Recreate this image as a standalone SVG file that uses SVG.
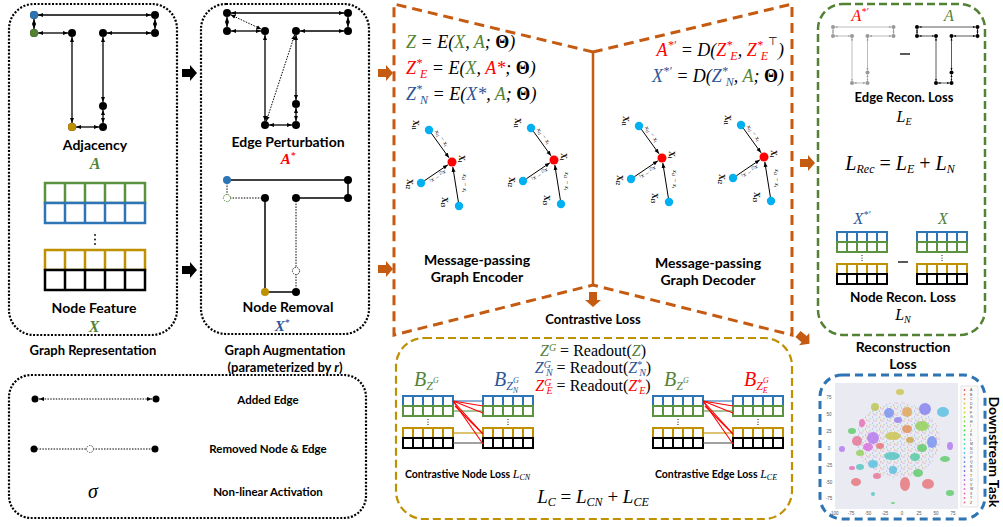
<svg xmlns="http://www.w3.org/2000/svg" xmlns:xlink="http://www.w3.org/1999/xlink" width="1003" height="527" viewBox="0 0 1003 527">
<style>
.lbl{font-family:Lato,"Liberation Sans",sans-serif;font-weight:700}
.mi{font-family:"Liberation Serif",serif;font-style:italic}
.mb{font-family:"Liberation Serif",serif;font-style:italic;font-weight:700}
.up{font-style:normal}
.edge{stroke:#000;stroke-width:1.3;marker-start:url(#ah);marker-end:url(#ah)}
.dotl{stroke:#000;stroke-width:1;stroke-dasharray:1.5 1.3}
.sol{stroke:#000;stroke-width:1.5}
.frame{fill:none;stroke:#000;stroke-width:2.2;stroke-dasharray:2 1.6}
.mpa{stroke:#000;stroke-width:1;marker-end:url(#ah)}
.mpl{font-family:"Liberation Serif",serif;font-weight:700}
.mpe{font-family:"Liberation Serif",serif;font-style:italic}
.tick{font-family:"Liberation Sans",sans-serif}
.leg{font-family:"Liberation Sans",sans-serif}
</style>
<defs>
<marker id="ah" viewBox="0 0 10 10" refX="10" refY="5" markerWidth="5" markerHeight="5" markerUnits="userSpaceOnUse" orient="auto-start-reverse"><path d="M0,1 L10,5 L0,9 z" fill="#000"/></marker>
<path id="barrow" d="M0,-4 H8 V-8 L15,0 L8,8 V4 H0 Z"/>
<g id="tedges">
<line class="edge" x1="38" y1="15" x2="151" y2="15"/>
<line class="edge" x1="34" y1="19" x2="34" y2="29"/>
<line class="edge" x1="38" y1="33" x2="68" y2="33"/>
<line class="edge" x1="155" y1="19" x2="155" y2="29"/>
<line class="edge" x1="107" y1="33" x2="151" y2="33"/>
<line class="edge" x1="72" y1="37" x2="72" y2="123"/>
<line class="edge" x1="103" y1="37" x2="103" y2="102"/>
<line class="edge" x1="103" y1="110" x2="103" y2="123"/>
<line class="edge" x1="76" y1="127" x2="99" y2="127"/>
</g>
<g id="tnodes" fill="#000">
<circle cx="34" cy="15" r="4"/><circle cx="155" cy="15" r="4"/><circle cx="34" cy="33" r="4"/><circle cx="72" cy="33" r="4"/><circle cx="103" cy="33" r="4"/><circle cx="155" cy="33" r="4"/><circle cx="103" cy="106" r="4"/><circle cx="103" cy="127" r="4"/><circle cx="72" cy="127" r="4"/>
</g>
<g id="smat" fill="#fff" stroke-width="2">
<rect x="0" y="0" width="50" height="10" stroke="#2e75b6"/><path d="M10,0v10M20,0v10M30,0v10M40,0v10" stroke="#2e75b6"/>
<rect x="0" y="10" width="50" height="10" stroke="#5b9240"/><path d="M10,10v10M20,10v10M30,10v10M40,10v10" stroke="#5b9240"/>
<g fill="#000" stroke="none"><circle cx="25" cy="23.5" r="0.6"/><circle cx="25" cy="26" r="0.6"/><circle cx="25" cy="28.5" r="0.6"/></g>
<rect x="0" y="32" width="50" height="10" stroke="#bf9000"/><path d="M10,32v10M20,32v10M30,32v10M40,32v10" stroke="#bf9000"/>
<rect x="0" y="42" width="50" height="10" stroke="#000"/><path d="M10,42v10M20,42v10M30,42v10M40,42v10" stroke="#000"/>
</g>
<g id="mp">
<line class="mpa" x1="-20.7" y1="-28.8" x2="-3" y2="-4.2"/>
<line class="mpa" x1="-27.7" y1="18.8" x2="-4.1" y2="2.8"/>
<line class="mpa" x1="6.4" y1="40" x2="0.8" y2="5"/>
<circle cx="-23" cy="-32" r="4.2" fill="#00b0f0"/>
<circle cx="-31" cy="21" r="4.2" fill="#00b0f0"/>
<circle cx="7" cy="44" r="4.2" fill="#00b0f0"/>
<circle cx="0" cy="0" r="4.5" fill="#ff0000"/>
<text class="mpl" font-size="8" transform="translate(-39,-42) rotate(90)">X<tspan font-size="5.5" dy="1.5">i1</tspan></text>
<text class="mpe" font-size="6.5" text-anchor="middle" transform="translate(-12,-23) rotate(54)">x<tspan font-size="4.5" dy="1.2">i1</tspan><tspan dy="-1.2"> − x</tspan><tspan font-size="4.5" dy="1.2">i</tspan></text>
<text class="mpl" font-size="8" transform="translate(7,-7) rotate(90)">X<tspan font-size="5.5" dy="1.5">i</tspan></text>
<text class="mpe" font-size="6.5" text-anchor="middle" transform="translate(-15,13) rotate(146)">x<tspan font-size="4.5" dy="1.2">i2</tspan><tspan dy="-1.2"> − x</tspan><tspan font-size="4.5" dy="1.2">i</tspan></text>
<text class="mpl" font-size="8" transform="translate(-45,17) rotate(90)">X<tspan font-size="5.5" dy="1.5">i2</tspan></text>
<text class="mpe" font-size="6.5" text-anchor="middle" transform="translate(11,21) rotate(90)">x<tspan font-size="4.5" dy="1.2">i3</tspan><tspan dy="-1.2"> − x</tspan><tspan font-size="4.5" dy="1.2">i</tspan></text>
<text class="mpl" font-size="8" transform="translate(-10,35) rotate(90)">X<tspan font-size="5.5" dy="1.5">i3</tspan></text>
</g>
<g id="cpair">
<use href="#smat" x="403" y="396"/>
<use href="#smat" x="483" y="396"/>
<g stroke-width="1.1">
<line x1="453" y1="401" x2="483" y2="401" stroke="#2e75b6"/>
<line x1="453" y1="411" x2="483" y2="411" stroke="#5b9240"/>
<line x1="453" y1="433" x2="483" y2="433" stroke="#bf9000"/>
<line x1="453" y1="443" x2="483" y2="443" stroke="#555"/>
<g stroke="#ff0000">
<line x1="453" y1="401" x2="483" y2="406"/>
<line x1="453" y1="401" x2="483" y2="413"/>
<line x1="453" y1="401" x2="483" y2="434"/>
<line x1="453" y1="401" x2="483" y2="444"/>
<line x1="455" y1="406" x2="483" y2="434"/>
</g>
</g>
</g>
<pattern id="noise" width="7" height="6" patternUnits="userSpaceOnUse"><circle cx="1" cy="1" r="0.6" fill="#e8686f"/><circle cx="4.5" cy="3" r="0.6" fill="#6f8af0"/><circle cx="2" cy="4.8" r="0.6" fill="#52c95e"/><circle cx="6" cy="0.7" r="0.5" fill="#b06ef0"/><circle cx="5.5" cy="5.3" r="0.5" fill="#e0a04a"/></pattern>
</defs>
<rect width="1003" height="527" fill="#fff"/>

<!-- Graph Representation panel -->
<g id="graph-representation">
<rect class="frame" x="9" y="4" width="168" height="331" rx="25"/>
<use href="#tedges"/>
<use href="#tnodes"/>
<circle cx="34" cy="15" r="4" fill="#2e75b6"/>
<circle cx="34" cy="33" r="4" fill="#548235"/>
<circle cx="72" cy="127" r="4" fill="#bf9000"/>
<text class="lbl" x="95" y="150" font-size="14" text-anchor="middle">Adjacency</text>
<text class="mb" x="95" y="169" font-size="16" fill="#548235" text-anchor="middle">A</text>
<g fill="#fff" stroke-width="2.5">
<rect x="45" y="183" width="100" height="20" stroke="#5b9240"/><path d="M65,183v20M85,183v20M105,183v20M125,183v20" stroke="#5b9240"/>
<rect x="45" y="203" width="100" height="20" stroke="#2e75b6"/><path d="M65,203v20M85,203v20M105,203v20M125,203v20" stroke="#2e75b6"/>
<rect x="45" y="250" width="100" height="20" stroke="#bf9000"/><path d="M65,250v20M85,250v20M105,250v20M125,250v20" stroke="#bf9000"/>
<rect x="45" y="270" width="100" height="20" stroke="#000"/><path d="M65,270v20M85,270v20M105,270v20M125,270v20" stroke="#000"/>
</g>
<g fill="#000"><circle cx="95" cy="235" r="0.9"/><circle cx="95" cy="239.5" r="0.9"/><circle cx="95" cy="244" r="0.9"/></g>
<text class="lbl" x="94" y="313" font-size="14" text-anchor="middle">Node Feature</text>
<text class="mb" x="94" y="332" font-size="16" fill="#548235" text-anchor="middle">X</text>
<text class="lbl" x="93" y="355" font-size="13" text-anchor="middle">Graph Representation</text>
</g>

<!-- Graph Augmentation panel -->
<g id="graph-augmentation">
<rect class="frame" x="201" y="4" width="168" height="330" rx="25"/>
<g transform="translate(193,-2)">
<use href="#tedges"/>
<line class="dotl" x1="37.6" y1="16.7" x2="68.4" y2="31.3" marker-start="url(#ah)" marker-end="url(#ah)"/>
<line class="dotl" x1="73.3" y1="123.2" x2="101.7" y2="36.8" marker-start="url(#ah)" marker-end="url(#ah)"/>
<use href="#tnodes"/>
</g>
<text class="lbl" x="288" y="147" font-size="14" text-anchor="middle">Edge Perturbation</text>
<text class="mb" x="288" y="164" font-size="15" fill="#ff0000" text-anchor="middle">A<tspan font-size="9" dy="-6">*</tspan></text>
<g transform="translate(193,165)">
<line class="sol" x1="34" y1="15" x2="155" y2="15"/>
<line class="sol" x1="155" y1="15" x2="155" y2="33"/>
<line class="sol" x1="103" y1="33" x2="155" y2="33"/>
<line class="sol" x1="72" y1="33" x2="72" y2="127"/>
<line class="sol" x1="72" y1="127" x2="103" y2="127"/>
<line class="dotl" x1="34" y1="15" x2="34" y2="33"/>
<line class="dotl" x1="34" y1="33" x2="72" y2="33"/>
<line class="dotl" x1="103" y1="33" x2="103" y2="106"/>
<line class="dotl" x1="103" y1="106" x2="103" y2="127"/>
<circle cx="34" cy="15" r="4" fill="#2e75b6"/>
<circle cx="155" cy="15" r="4"/><circle cx="72" cy="33" r="4"/><circle cx="103" cy="33" r="4"/><circle cx="155" cy="33" r="4"/><circle cx="103" cy="127" r="4"/>
<circle cx="72" cy="127" r="4" fill="#bf9000"/>
<circle cx="34" cy="33" r="3.6" fill="#fff" stroke="#548235" stroke-width="1" stroke-dasharray="1.5 1"/>
<circle cx="103" cy="106" r="3.6" fill="#fff" stroke="#333" stroke-width="1" stroke-dasharray="1.5 1"/>
</g>
<text class="lbl" x="288" y="312" font-size="14" text-anchor="middle">Node Removal</text>
<text class="mb" x="282" y="331" font-size="15" fill="#2f5597" text-anchor="middle">X<tspan font-size="9" dy="-6">*</tspan></text>
<text class="lbl" x="285" y="355" font-size="13" text-anchor="middle">Graph Augmentation</text>
<text class="lbl" x="285" y="372" font-size="13" text-anchor="middle">(parameterized by <tspan font-style="italic">r</tspan>)</text>
</g>

<!-- Legend -->
<g id="legend">
<rect class="frame" x="9" y="375" width="357" height="143" rx="22"/>
<line class="dotl" x1="39" y1="399" x2="152" y2="399" marker-start="url(#ah)" marker-end="url(#ah)"/>
<circle cx="35" cy="399" r="3.5"/><circle cx="156" cy="399" r="3.5"/>
<line class="dotl" x1="34" y1="449" x2="155" y2="449"/>
<circle cx="34" cy="449" r="3.5"/><circle cx="155" cy="449" r="3.5"/>
<circle cx="90" cy="449" r="3.5" fill="#fff" stroke="#555" stroke-width="1" stroke-dasharray="1.5 1"/>
<text class="mi" x="93" y="498" font-size="20" text-anchor="middle">σ</text>
<text class="lbl" x="268" y="404" font-size="11.5" text-anchor="middle">Added Edge</text>
<text class="lbl" x="268" y="453" font-size="11.5" text-anchor="middle">Removed Node &amp; Edge</text>
<text class="lbl" x="268" y="496" font-size="11.5" text-anchor="middle">Non-linear Activation</text>
</g>

<!-- Connectors -->
<g id="connectors">
<use href="#barrow" transform="translate(182,73)" fill="#000"/>
<use href="#barrow" transform="translate(182,270)" fill="#000"/>
<use href="#barrow" transform="translate(378,73)" fill="#c55a11"/>
<use href="#barrow" transform="translate(378,269)" fill="#c55a11"/>
<use href="#barrow" transform="translate(800,163)" fill="#c55a11"/>
<use href="#barrow" transform="translate(593,292) rotate(90)" fill="#c55a11"/>
<use href="#barrow" transform="translate(798,334) rotate(40)" fill="#c55a11"/>
</g>

<!-- Encoder / Decoder -->
<g id="encoder-decoder">
<path d="M593,52 L394,4 L394,335 L593,285 L792,335 L792,4 Z" fill="none" stroke="#c55a11" stroke-width="3" stroke-dasharray="10 6"/>
<line x1="593" y1="52" x2="593" y2="285" stroke="#c55a11" stroke-width="2.5"/>
</g>
<g id="encoder">
<text class="mi" x="406" y="48" font-size="18"><tspan fill="#548235">Z</tspan> = E(<tspan fill="#548235">X</tspan>, <tspan fill="#548235">A</tspan>; <tspan class="up" font-weight="700">Θ</tspan>)</text>
<text class="mi" x="406" y="74" font-size="18"><tspan fill="#ff0000">Z</tspan><tspan fill="#ff0000" font-size="12" dy="-7">*</tspan><tspan fill="#ff0000" font-size="12" dx="-2" dy="11">E</tspan><tspan dy="-4"> = E(</tspan><tspan fill="#548235">X</tspan>, <tspan fill="#ff0000">A*</tspan>; <tspan class="up" font-weight="700">Θ</tspan>)</text>
<text class="mi" x="406" y="100" font-size="18"><tspan fill="#2f5597">Z</tspan><tspan fill="#2f5597" font-size="12" dy="-7">*</tspan><tspan fill="#2f5597" font-size="12" dx="-2" dy="11">N</tspan><tspan dy="-4"> = E(</tspan><tspan fill="#2f5597">X*</tspan>, <tspan fill="#548235">A</tspan>; <tspan class="up" font-weight="700">Θ</tspan>)</text>
<use href="#mp" transform="translate(452,162)"/>
<use href="#mp" transform="translate(554,160)"/>
<text class="lbl" x="477" y="265" font-size="14" text-anchor="middle">Message-passing</text>
<text class="lbl" x="477" y="282" font-size="14" text-anchor="middle">Graph Encoder</text>
</g>
<g id="decoder">
<text class="mi" x="784" y="56" font-size="18" text-anchor="end"><tspan fill="#ff0000">A</tspan><tspan fill="#ff0000" font-size="12" dy="-7">*′</tspan><tspan dy="7"> = D(</tspan><tspan fill="#ff0000">Z</tspan><tspan fill="#ff0000" font-size="12" dy="-7">*</tspan><tspan fill="#ff0000" font-size="12" dx="-2" dy="11">E</tspan><tspan dy="-4">, </tspan><tspan fill="#ff0000">Z</tspan><tspan fill="#ff0000" font-size="12" dy="-7">*</tspan><tspan fill="#ff0000" font-size="12" dx="-2" dy="11">E</tspan><tspan font-size="11" class="up" dy="-15">⊤</tspan><tspan dy="11">)</tspan></text>
<text class="mi" x="784" y="82" font-size="18" text-anchor="end"><tspan fill="#2f5597">X</tspan><tspan fill="#2f5597" font-size="12" dy="-7">*′</tspan><tspan dy="7"> = D(</tspan><tspan fill="#2f5597">Z</tspan><tspan fill="#2f5597" font-size="12" dy="-7">*</tspan><tspan fill="#2f5597" font-size="12" dx="-2" dy="11">N</tspan><tspan dy="-4">, </tspan><tspan fill="#548235">A</tspan>; <tspan class="up" font-weight="700">Θ</tspan>)</text>
<use href="#mp" transform="translate(662,158)"/>
<use href="#mp" transform="translate(764,157)"/>
<text class="lbl" x="708" y="268" font-size="14" text-anchor="middle">Message-passing</text>
<text class="lbl" x="708" y="285" font-size="14" text-anchor="middle">Graph Decoder</text>
</g>

<!-- Contrastive loss -->
<g id="contrastive-loss">
<text class="lbl" x="593" y="324" font-size="13" text-anchor="middle">Contrastive Loss</text>
<rect x="396" y="338" width="396" height="181" rx="28" fill="none" stroke="#bf9000" stroke-width="2.2" stroke-dasharray="8 4"/>
<text class="mi up" x="593" y="356" font-size="16" text-anchor="middle"><tspan fill="#548235" font-style="italic">Z</tspan><tspan fill="#548235" font-style="italic" font-size="10" dy="-5">G</tspan><tspan dy="5"> = Readout(</tspan><tspan fill="#548235" font-style="italic">Z</tspan>)</text>
<text class="mi up" x="593" y="373" font-size="16" text-anchor="middle"><tspan fill="#2f5597" font-style="italic">Z</tspan><tspan fill="#2f5597" font-style="italic" font-size="10" dy="-5">G</tspan><tspan fill="#2f5597" font-style="italic" font-size="10" dx="-5" dy="8">N</tspan><tspan dy="-3"> = Readout(</tspan><tspan fill="#2f5597" font-style="italic">Z</tspan><tspan fill="#2f5597" font-size="10" dy="-5">*</tspan><tspan fill="#2f5597" font-style="italic" font-size="10" dx="-3" dy="8">N</tspan><tspan dy="-3">)</tspan></text>
<text class="mi up" x="593" y="391" font-size="16" text-anchor="middle"><tspan fill="#ff0000" font-style="italic">Z</tspan><tspan fill="#ff0000" font-style="italic" font-size="10" dy="-5">G</tspan><tspan fill="#ff0000" font-style="italic" font-size="10" dx="-5" dy="8">E</tspan><tspan dy="-3"> = Readout(</tspan><tspan fill="#ff0000" font-style="italic">Z</tspan><tspan fill="#ff0000" font-size="10" dy="-5">*</tspan><tspan fill="#ff0000" font-style="italic" font-size="10" dx="-3" dy="8">E</tspan><tspan dy="-3">)</tspan></text>
<text class="mi" x="414" y="386" font-size="20" fill="#548235">B<tspan font-size="12" dy="4">Z</tspan><tspan font-size="8" dy="-7">G</tspan></text>
<text class="mi" x="494" y="386" font-size="20" fill="#2f5597">B<tspan font-size="12" dy="4">Z</tspan><tspan font-size="8" dy="-7">G</tspan><tspan font-size="8" dx="-6" dy="10">N</tspan></text>
<text class="mi" x="664" y="386" font-size="20" fill="#548235">B<tspan font-size="12" dy="4">Z</tspan><tspan font-size="8" dy="-7">G</tspan></text>
<text class="mi" x="744" y="386" font-size="20" fill="#ff0000">B<tspan font-size="12" dy="4">Z</tspan><tspan font-size="8" dy="-7">G</tspan><tspan font-size="8" dx="-6" dy="10">E</tspan></text>
<use href="#cpair"/>
<use href="#cpair" transform="translate(250,0)"/>
<text class="lbl" x="405" y="478" font-size="10.5">Contrastive Node Loss <tspan class="mi" font-weight="400" font-size="12">L</tspan><tspan class="mi" font-weight="400" font-size="8" dy="2">CN</tspan></text>
<text class="lbl" x="655" y="478" font-size="10.5">Contrastive Edge Loss <tspan class="mi" font-weight="400" font-size="12">L</tspan><tspan class="mi" font-weight="400" font-size="8" dy="2">CE</tspan></text>
<text class="mi" x="593" y="503" font-size="19" text-anchor="middle">L<tspan font-size="12" dy="3">C</tspan><tspan class="up" dy="-3"> = </tspan>L<tspan font-size="12" dy="3">CN</tspan><tspan class="up" dy="-3"> + </tspan>L<tspan font-size="12" dy="3">CE</tspan></text>
</g>

<!-- Reconstruction loss -->
<g id="reconstruction-loss">
<rect x="818" y="4" width="167" height="331" rx="25" fill="none" stroke="#548235" stroke-width="2.5" stroke-dasharray="8 4"/>
<text class="mi" x="860" y="21" font-size="16" fill="#ff0000" text-anchor="middle">A<tspan font-size="10" dy="-6">*′</tspan></text>
<text class="mi" x="949" y="21" font-size="16" fill="#548235" text-anchor="middle">A</text>
<g transform="translate(833,27) scale(0.5) translate(-34,-15)" opacity="0.4"><use href="#tedges"/><use href="#tnodes"/></g>
<g transform="translate(917,27) scale(0.5) translate(-34,-15)"><use href="#tedges"/><use href="#tnodes"/></g>
<line x1="900" y1="54" x2="910" y2="54" stroke="#000" stroke-width="1.3"/>
<text class="lbl" x="904" y="102" font-size="13" text-anchor="middle">Edge Recon. Loss</text>
<text class="mi" x="904" y="122" font-size="16" text-anchor="middle">L<tspan font-size="10" dy="3">E</tspan></text>
<text class="mi" x="900" y="170" font-size="20" text-anchor="middle">L<tspan font-size="12" dy="3">Rec</tspan><tspan class="up" dy="-3"> = </tspan>L<tspan font-size="12" dy="3">E</tspan><tspan class="up" dy="-3"> + </tspan>L<tspan font-size="12" dy="3">N</tspan></text>
<text class="mi" x="862" y="224" font-size="16" fill="#2f5597" text-anchor="middle">X<tspan font-size="10" dy="-6">*′</tspan></text>
<text class="mi" x="943" y="224" font-size="16" fill="#548235" text-anchor="middle">X</text>
<use href="#smat" x="837" y="232"/>
<use href="#smat" x="917" y="232"/>
<line x1="898" y1="262" x2="908" y2="262" stroke="#000" stroke-width="1.3"/>
<text class="lbl" x="903" y="302" font-size="13.5" text-anchor="middle">Node Recon. Loss</text>
<text class="mi" x="903" y="320" font-size="16" text-anchor="middle">L<tspan font-size="10" dy="3">N</tspan></text>
<text class="lbl" x="903" y="352" font-size="14" text-anchor="middle">Reconstruction</text>
<text class="lbl" x="903" y="369" font-size="14" text-anchor="middle">Loss</text>
</g>

<!-- Downstream task -->
<g id="downstream-task">
<rect x="820" y="375" width="165" height="144" rx="22" fill="none" stroke="#2e75b6" stroke-width="3" stroke-dasharray="8 5"/>
<rect x="835" y="383" width="123" height="126" fill="#eaeaf2"/>
<ellipse cx="898" cy="440" rx="42" ry="38" fill="url(#noise)" opacity="0.8"/>
<g opacity="0.75">
<ellipse cx="900" cy="392" rx="4" ry="3" fill="#c9c23f"/>
<ellipse cx="875" cy="407" rx="4" ry="4" fill="#b8c23f"/>
<ellipse cx="889" cy="413" rx="5" ry="5" fill="#6f8af0"/>
<ellipse cx="907" cy="412" rx="5" ry="5" fill="#e0a04a"/>
<ellipse cx="898" cy="420" rx="4" ry="3" fill="#8f78f0"/>
<ellipse cx="925" cy="409" rx="6" ry="6" fill="#7a78f0"/>
<ellipse cx="943" cy="412" rx="6" ry="5" fill="#4bbde0"/>
<ellipse cx="862" cy="423" rx="3" ry="4" fill="#e862b4"/>
<ellipse cx="852" cy="431" rx="4" ry="3" fill="#52c95e"/>
<ellipse cx="922" cy="426" rx="7" ry="5" fill="#8ccf4a"/>
<ellipse cx="907" cy="429" rx="5" ry="4" fill="#e0894a"/>
<ellipse cx="893" cy="436" rx="8" ry="4" fill="#c9c23f"/>
<ellipse cx="873" cy="438" rx="6" ry="6" fill="#b06ef0"/>
<ellipse cx="857" cy="441" rx="5" ry="5" fill="#e86a8e"/>
<ellipse cx="842" cy="449" rx="3" ry="3" fill="#b06ef0"/>
<ellipse cx="868" cy="447" rx="5" ry="4" fill="#d865e0"/>
<ellipse cx="932" cy="442" rx="5" ry="6" fill="#6f8af0"/>
<ellipse cx="950" cy="446" rx="3" ry="4" fill="#b06ef0"/>
<ellipse cx="922" cy="448" rx="5" ry="4" fill="#52c95e"/>
<ellipse cx="892" cy="456" rx="8" ry="4" fill="#45c4bf"/>
<ellipse cx="860" cy="453" rx="4" ry="3" fill="#8ccf4a"/>
<ellipse cx="873" cy="464" rx="5" ry="4" fill="#4bbde0"/>
<ellipse cx="945" cy="459" rx="5" ry="3" fill="#52c95e"/>
<ellipse cx="915" cy="457" rx="5" ry="4" fill="#47c99a"/>
<ellipse cx="860" cy="467" rx="4" ry="3" fill="#45c4bf"/>
<ellipse cx="918" cy="473" rx="5" ry="4" fill="#52c95e"/>
<ellipse cx="856" cy="482" rx="5" ry="4" fill="#e8686f"/>
<ellipse cx="877" cy="476" rx="4" ry="3" fill="#e86a8e"/>
<ellipse cx="893" cy="470" rx="4" ry="4" fill="#4bbde0"/>
<ellipse cx="905" cy="484" rx="5" ry="7" fill="#e8686f"/>
<ellipse cx="928" cy="484" rx="6" ry="5" fill="#e8686f"/>
<ellipse cx="950" cy="493" rx="4" ry="3" fill="#52c95e"/>
<ellipse cx="893" cy="503" rx="2" ry="1" fill="#52c95e"/>
<ellipse cx="873" cy="494" rx="2" ry="2" fill="#45c4bf"/>
<ellipse cx="852" cy="468" rx="3" ry="2" fill="#e862b4"/>
<ellipse cx="880" cy="446" rx="4" ry="3" fill="#e8686f"/>
<ellipse cx="910" cy="440" rx="4" ry="3" fill="#c9a13a"/>
</g>
<g class="tick" font-size="4.5" fill="#555" text-anchor="middle">
<text x="829" y="399">75</text><text x="829" y="416">50</text><text x="829" y="433">25</text><text x="829" y="450">0</text><text x="829" y="467">-25</text><text x="829" y="484">-50</text><text x="829" y="500">-75</text>
<text x="834" y="515">-100</text><text x="851" y="515">-75</text><text x="868" y="515">-50</text><text x="885" y="515">-25</text><text x="902" y="515">0</text><text x="919" y="515">25</text><text x="936" y="515">50</text><text x="953" y="515">75</text>
</g>
<rect x="961" y="386" width="17" height="121" fill="#fafafa" stroke="#ccc" stroke-width="0.5"/>
<g class="leg" font-size="3.4" fill="#444">
<circle cx="964.5" cy="390" r="0.9" fill="hsl(0,70%,62%)"/><text x="970" y="391.2">A</text>
<circle cx="964.5" cy="394.5" r="0.9" fill="hsl(14,70%,62%)"/><text x="970" y="395.7">B</text>
<circle cx="964.5" cy="399" r="0.9" fill="hsl(28,70%,62%)"/><text x="970" y="400.2">C</text>
<circle cx="964.5" cy="403.5" r="0.9" fill="hsl(42,70%,62%)"/><text x="970" y="404.7">D</text>
<circle cx="964.5" cy="408" r="0.9" fill="hsl(55,70%,55%)"/><text x="970" y="409.2">E</text>
<circle cx="964.5" cy="412.5" r="0.9" fill="hsl(69,70%,55%)"/><text x="970" y="413.7">F</text>
<circle cx="964.5" cy="417" r="0.9" fill="hsl(83,70%,55%)"/><text x="970" y="418.2">G</text>
<circle cx="964.5" cy="421.5" r="0.9" fill="hsl(97,70%,55%)"/><text x="970" y="422.7">H</text>
<circle cx="964.5" cy="426" r="0.9" fill="hsl(111,70%,55%)"/><text x="970" y="427.2">I</text>
<circle cx="964.5" cy="430.5" r="0.9" fill="hsl(125,70%,55%)"/><text x="970" y="431.7">J</text>
<circle cx="964.5" cy="435" r="0.9" fill="hsl(138,70%,55%)"/><text x="970" y="436.2">K</text>
<circle cx="964.5" cy="439.5" r="0.9" fill="hsl(152,70%,55%)"/><text x="970" y="440.7">L</text>
<circle cx="964.5" cy="444" r="0.9" fill="hsl(166,70%,55%)"/><text x="970" y="445.2">M</text>
<circle cx="964.5" cy="448.5" r="0.9" fill="hsl(180,70%,55%)"/><text x="970" y="449.7">N</text>
<circle cx="964.5" cy="453" r="0.9" fill="hsl(194,70%,60%)"/><text x="970" y="454.2">O</text>
<circle cx="964.5" cy="457.5" r="0.9" fill="hsl(208,70%,62%)"/><text x="970" y="458.7">P</text>
<circle cx="964.5" cy="462" r="0.9" fill="hsl(222,70%,65%)"/><text x="970" y="463.2">Q</text>
<circle cx="964.5" cy="466.5" r="0.9" fill="hsl(235,70%,65%)"/><text x="970" y="467.7">R</text>
<circle cx="964.5" cy="471" r="0.9" fill="hsl(249,70%,65%)"/><text x="970" y="472.2">S</text>
<circle cx="964.5" cy="475.5" r="0.9" fill="hsl(263,70%,65%)"/><text x="970" y="476.7">T</text>
<circle cx="964.5" cy="480" r="0.9" fill="hsl(277,70%,65%)"/><text x="970" y="481.2">U</text>
<circle cx="964.5" cy="484.5" r="0.9" fill="hsl(291,70%,65%)"/><text x="970" y="485.7">V</text>
<circle cx="964.5" cy="489" r="0.9" fill="hsl(305,70%,65%)"/><text x="970" y="490.2">W</text>
<circle cx="964.5" cy="493.5" r="0.9" fill="hsl(318,70%,65%)"/><text x="970" y="494.7">X</text>
<circle cx="964.5" cy="498" r="0.9" fill="hsl(332,70%,65%)"/><text x="970" y="499.2">Y</text>
<circle cx="964.5" cy="502.5" r="0.9" fill="hsl(346,70%,65%)"/><text x="970" y="503.7">Z</text>
</g>
<text class="lbl" transform="translate(989,452) rotate(90)" font-size="14" text-anchor="middle">Downstream Task</text>
</g>
</svg>
